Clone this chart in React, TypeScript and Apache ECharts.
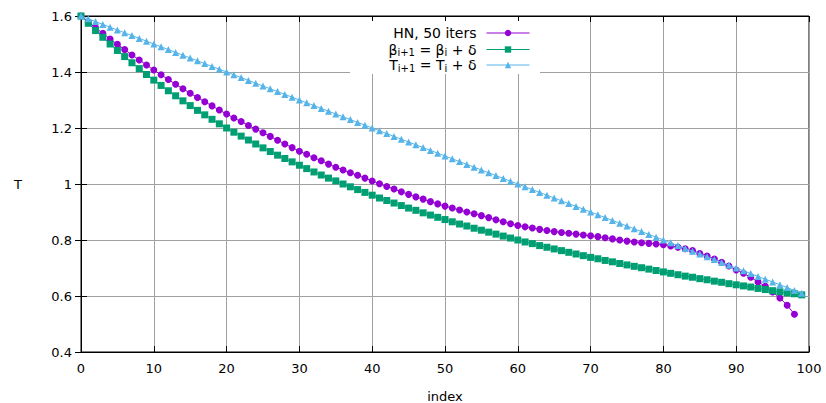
import React, { useEffect, useRef } from "react";
import * as echarts from "echarts";

const hnValues = [
  1.600, 1.578, 1.558, 1.538, 1.518, 1.499, 1.480, 1.461, 1.443, 1.425,
  1.407, 1.390, 1.373, 1.356, 1.340, 1.324, 1.309, 1.294, 1.279, 1.264,
  1.250, 1.236, 1.223, 1.209, 1.196, 1.183, 1.170, 1.156, 1.143, 1.130,
  1.117, 1.106, 1.094, 1.083, 1.071, 1.060, 1.050, 1.040, 1.031, 1.021,
  1.011, 1.001, 0.991, 0.982, 0.972, 0.963, 0.954, 0.946, 0.937, 0.929,
  0.921, 0.914, 0.907, 0.900, 0.894, 0.887, 0.880, 0.872, 0.865, 0.858,
  0.852, 0.847, 0.843, 0.838, 0.834, 0.830, 0.827, 0.824, 0.821, 0.818,
  0.815, 0.812, 0.808, 0.804, 0.800, 0.796, 0.793, 0.790, 0.788, 0.786,
  0.783, 0.779, 0.774, 0.769, 0.762, 0.752, 0.743, 0.732, 0.720, 0.707,
  0.693, 0.681, 0.667, 0.650, 0.635, 0.614, 0.593, 0.567, 0.535,
];

const betaValues = [
  1.600, 1.574, 1.548, 1.524, 1.500, 1.477, 1.455, 1.433, 1.412, 1.391,
  1.371, 1.352, 1.333, 1.315, 1.297, 1.280, 1.263, 1.247, 1.231, 1.215,
  1.200, 1.185, 1.171, 1.157, 1.143, 1.129, 1.116, 1.103, 1.091, 1.079,
  1.067, 1.055, 1.043, 1.032, 1.021, 1.011, 1.000, 0.990, 0.980, 0.970,
  0.960, 0.950, 0.941, 0.932, 0.923, 0.914, 0.906, 0.897, 0.889, 0.881,
  0.873, 0.865, 0.857, 0.850, 0.842, 0.835, 0.828, 0.821, 0.814, 0.807,
  0.800, 0.793, 0.787, 0.780, 0.774, 0.768, 0.762, 0.756, 0.750, 0.744,
  0.738, 0.733, 0.727, 0.722, 0.716, 0.711, 0.706, 0.701, 0.696, 0.691,
  0.686, 0.681, 0.676, 0.671, 0.667, 0.662, 0.658, 0.653, 0.649, 0.644,
  0.640, 0.636, 0.632, 0.627, 0.623, 0.619, 0.615, 0.611, 0.608, 0.604,
];

const tValues = [
  1.60, 1.59, 1.58, 1.57, 1.56, 1.55, 1.54, 1.53, 1.52, 1.51,
  1.50, 1.49, 1.48, 1.47, 1.46, 1.45, 1.44, 1.43, 1.42, 1.41,
  1.40, 1.39, 1.38, 1.37, 1.36, 1.35, 1.34, 1.33, 1.32, 1.31,
  1.30, 1.29, 1.28, 1.27, 1.26, 1.25, 1.24, 1.23, 1.22, 1.21,
  1.20, 1.19, 1.18, 1.17, 1.16, 1.15, 1.14, 1.13, 1.12, 1.11,
  1.10, 1.09, 1.08, 1.07, 1.06, 1.05, 1.04, 1.03, 1.02, 1.01,
  1.00, 0.99, 0.98, 0.97, 0.96, 0.95, 0.94, 0.93, 0.92, 0.91,
  0.90, 0.89, 0.88, 0.87, 0.86, 0.85, 0.84, 0.83, 0.82, 0.81,
  0.80, 0.79, 0.78, 0.77, 0.76, 0.75, 0.74, 0.73, 0.72, 0.71,
  0.70, 0.69, 0.68, 0.67, 0.66, 0.65, 0.64, 0.63, 0.62, 0.61,
];

const seriesNames = ["HN, 50 iters", "beta", "temp"];
const legendLabels = [
  "{m|HN, 50 iters}",
  "{m|β}{s|i+1}{m| = β}{s|i}{m| + δ}",
  "{m|T}{s|i+1}{m| = T}{s|i}{m| + δ}",
];
const colors = ["#9400d3", "#009e73", "#56b4e9"];
const symbols = ["circle", "rect", "triangle"];
const xTicks = { min: 0, max: 100, interval: 10 };
const yTicks = { min: 0.4, max: 1.6, interval: 0.2 };

const FONT = "DejaVu Sans";

export default function App() {
  const ref = useRef<HTMLDivElement>(null);
  useEffect(() => {
    if (!ref.current) return;
    const chart = echarts.init(ref.current, null, { renderer: "svg" });
    const toPairs = (arr: number[]) => arr.map((v, i) => [i, v]);
    const allValues = [hnValues, betaValues, tValues];

    const legendTops = [26, 41.5, 57];
    const legends = seriesNames.map((name, k) => ({
      data: [name],
      orient: "horizontal",
      right: 296,
      top: legendTops[k],
      align: "right",
      padding: 0,
      itemWidth: 43,
      itemHeight: 8,
      itemGap: 0,
      selectedMode: false,
      lineStyle: { width: 1 },
      formatter: () => legendLabels[k],
      textStyle: {
        fontFamily: FONT,
        color: "#000",
        padding: [0, 5, 0, 0],
        rich: {
          m: { fontFamily: FONT, fontSize: 14, lineHeight: 16, color: "#000" },
          s: {
            fontFamily: FONT,
            fontSize: 10,
            lineHeight: 10,
            padding: [6, 0, 0, 0],
            color: "#000",
          },
        },
      },
    }));

    const axisLabelStyle = { fontFamily: FONT, fontSize: 13, color: "#000" };

    chart.setOption({
      animation: false,
      backgroundColor: "#fff",
      grid: {
        left: 81,
        right: 17,
        top: 16,
        bottom: 51,
        show: true,
        borderColor: "#000",
        borderWidth: 1,
        backgroundColor: "transparent",
        outerBoundsMode: "none",
        containLabel: false,
      },
      graphic: [
        {
          type: "rect",
          shape: { x: 350, y: 21, width: 190, height: 53 },
          style: { fill: "#fff" },
          z: 1,
        },
      ],
      legend: legends,
      xAxis: [
        {
          type: "value",
          ...xTicks,
          name: "index",
          nameLocation: "middle",
          nameGap: 38,
          nameTextStyle: { fontFamily: FONT, fontSize: 13, color: "#000" },
          axisLine: { show: true, lineStyle: { color: "#000" } },
          axisTick: { show: true, inside: true, length: 6, lineStyle: { color: "#000" } },
          axisLabel: { ...axisLabelStyle, margin: 10 },
          splitLine: { show: true, lineStyle: { color: "#a0a0a0", width: 1 } },
        },
        {
          type: "value",
          position: "top",
          ...xTicks,
          axisLine: { show: true, lineStyle: { color: "#000" } },
          axisTick: { show: true, inside: true, length: 6, lineStyle: { color: "#000" } },
          axisLabel: { show: false },
          splitLine: { show: false },
        },
      ],
      yAxis: [
        {
          type: "value",
          ...yTicks,
          name: "T",
          nameLocation: "middle",
          nameRotate: 0,
          nameGap: 59,
          nameTextStyle: { fontFamily: FONT, fontSize: 13, color: "#000" },
          axisLine: { show: true, lineStyle: { color: "#000" } },
          axisTick: { show: true, inside: true, length: 6, lineStyle: { color: "#000" } },
          axisLabel: { ...axisLabelStyle, margin: 9 },
          splitLine: { show: true, lineStyle: { color: "#a0a0a0", width: 1 } },
        },
        {
          type: "value",
          position: "right",
          ...yTicks,
          axisLine: { show: true, lineStyle: { color: "#000" } },
          axisTick: { show: true, inside: true, length: 6, lineStyle: { color: "#000" } },
          axisLabel: { show: false },
          splitLine: { show: false },
        },
      ],
      series: seriesNames.map((name, k) => ({
        name,
        type: "line",
        data: toPairs(allValues[k]),
        symbol: symbols[k],
        symbolSize: 7,
        showSymbol: true,
        color: colors[k],
        lineStyle: { color: colors[k], width: 1 },
        itemStyle: { color: colors[k] },
        z: 2 + k,
      })),
    });
    return () => chart.dispose();
  }, []);

  return (
    <div
      ref={ref}
      style={{ position: "absolute", left: 0, top: 0, width: 826, height: 403 }}
    />
  );
}
